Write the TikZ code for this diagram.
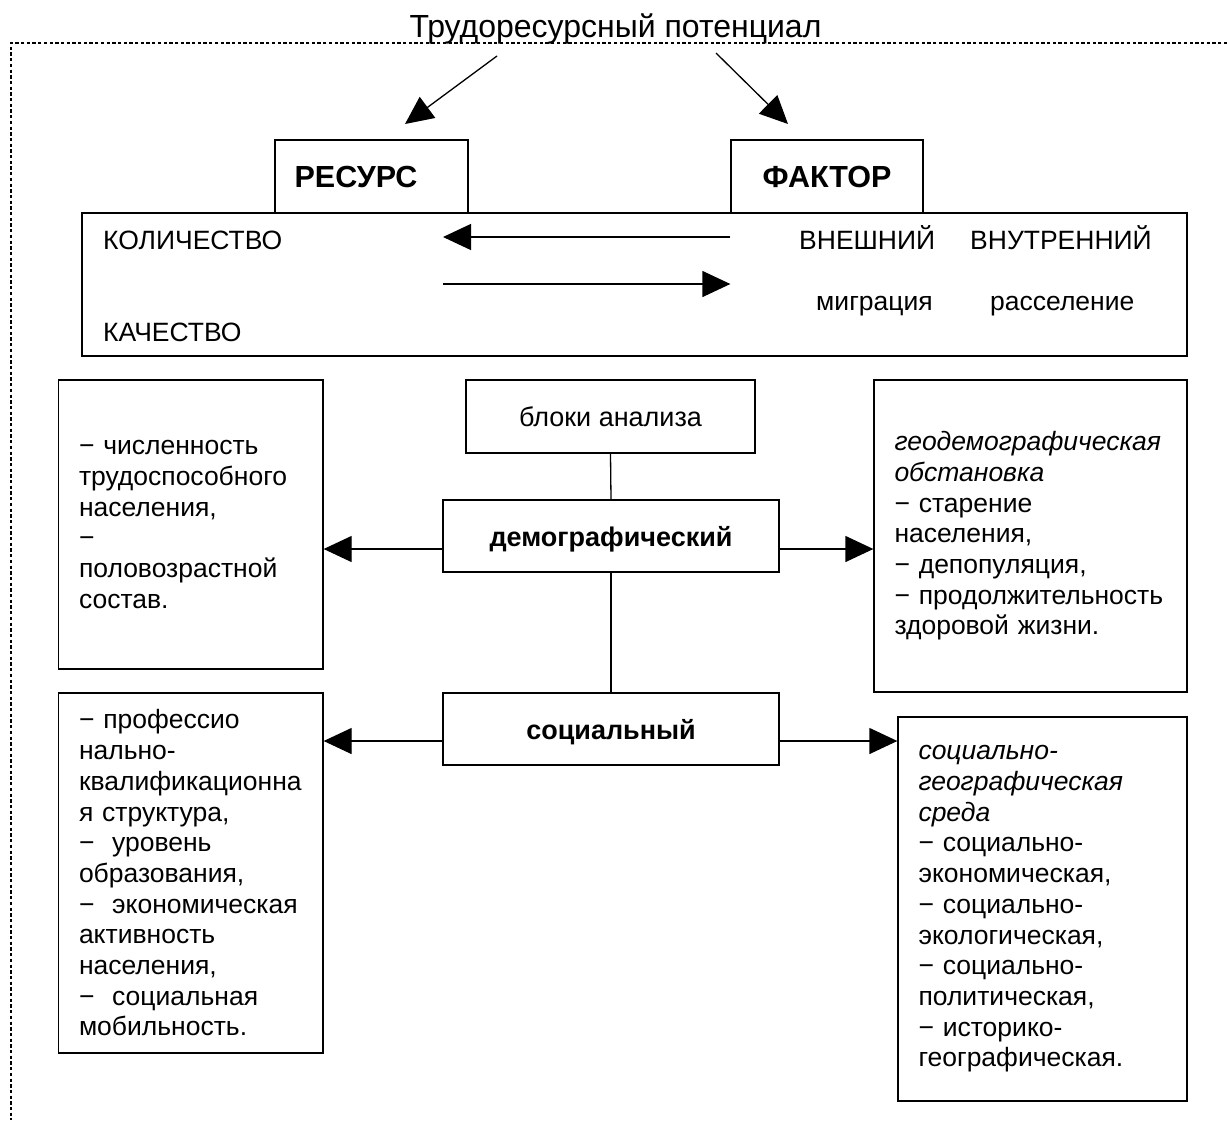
\documentclass[tikz,border=0pt]{standalone}
\usepackage{fontspec}
\setmainfont{Liberation Sans}
\usetikzlibrary{arrows.meta}
\hyphenpenalty=10000
\exhyphenpenalty=10000
\begin{document}
\begin{tikzpicture}[x=1pt,y=-1pt,
  box/.style={draw, line width=1.3pt, inner sep=0pt, font=\fontsize{27}{30.7}\selectfont},
  boldbox/.style={box, font=\bfseries\fontsize{27}{30.7}\selectfont, text height=20pt, text depth=0pt},
  headbox/.style={draw, line width=1.3pt, inner ysep=0pt, minimum height=73pt, font=\bfseries\fontsize{30.5}{36}\selectfont},
  txt/.style={inner sep=0pt, font=\fontsize{26.5}{30.7}\selectfont},
  arr/.style={line width=1.3pt, -{Triangle[length=28pt,width=26pt]}},
  lnk/.style={line width=1.3pt},
  listbox/.style={draw, line width=1.3pt, inner xsep=20.5pt, inner ysep=0pt, align=left,
    font=\fontsize{26.5}{30.7}\selectfont},
  dotline/.style={line width=2pt, dash pattern=on 3.3pt off 2.4pt},
]
\useasboundingbox (0,0) rectangle (1227,1120);

% dotted frame
\draw[dotline] (1227,43) -- (11,43) -- (11,1120);

% title
\node[inner sep=0pt, anchor=base, font=\fontsize{32}{38}\selectfont] (title) at (615.5,37) {Трудоресурсный потенциал};

% big box and heads
\node[draw, line width=1.3pt, inner sep=0pt, minimum width=1105pt, minimum height=143pt] (big) at (634.5,284.5) {};
\node[headbox, text width=153.8pt, inner xsep=19.6pt, align=left] (res) at (371.5,176.5) {РЕСУРС};
\node[headbox, text width=152pt, inner xsep=20pt, align=center] (fac) at (827,176.5) {ФАКТОР};

\coordinate (s1) at (497,56);
\coordinate (e1) at (405,124);
\coordinate (s2) at (716,53);
\coordinate (e2) at (788,124);
\draw[arr] (s1) -- (e1);
\draw[arr] (s2) -- (e2);

% texts inside the big box
\node[txt, anchor=base west] (kol) at (103,249) {КОЛИЧЕСТВО};
\node[txt, anchor=base west] (kach) at (103,341) {КАЧЕСТВО};
\node[txt, anchor=base west] (vnesh) at (799,249) {ВНЕШНИЙ};
\node[txt, anchor=base west] (vnutr) at (970,249) {ВНУТРЕННИЙ};
\node[txt, anchor=base west] (migr) at (816,310) {миграция};
\node[txt, anchor=base west] (rass) at (990,310) {расселение};

\coordinate (a1) at (443,237);
\coordinate (a2) at (443,284);
\draw[arr] (fac.south west |- a1) -- (a1);
\draw[arr] (a2) -- (fac.south west |- a2);

% central column
\node[box, minimum width=289pt, minimum height=73pt] (blocks) at (610.5,416.5) {блоки анализа};
\node[boldbox, minimum width=336pt, minimum height=72pt] (demo) at (611,536) {демографический};
\node[boldbox, minimum width=336pt, minimum height=72pt] (soc) at (611,729) {социальный};

\draw[lnk] (blocks.south) -- (demo.north);
\draw[lnk] (demo.south) -- (soc.north);

% side boxes
\node[listbox, text width=223.5pt, minimum height=289pt] (dleft) at (190.75,524.5)
  {−~численность\\трудоспособного\\населения,\\−\\половозрастной\\состав.};
\node[listbox, text width=272pt, minimum height=312pt] (dright) at (1030.5,536)
  {\textit{геодемографическая}\\\textit{обстановка}\\−~старение\\населения,\\−~депопуляция,\\−~продолжительность\\здоровой жизни.};
\node[listbox, text width=223.5pt, minimum height=360pt] (sleft) at (190.75,873)
  {−~профессио\\нально-\\квалификационна\\я структура,\\−~~уровень\\образования,\\−~~экономическая\\активность\\населения,\\−~~социальная\\мобильность.};
\node[listbox, text width=248pt, minimum height=384pt] (sright) at (1042.5,909)
  {\textit{социально-}\\\textit{географическая}\\\textit{среда}\\−~социально-\\экономическая,\\−~социально-\\экологическая,\\−~социально-\\политическая,\\−~историко-\\географическая.};

\coordinate (yd) at (0,549);
\coordinate (ys) at (0,741);
\draw[arr] (demo.west |- yd) -- (dleft.east |- yd);
\draw[arr] (demo.east |- yd) -- (dright.west |- yd);
\draw[arr] (soc.west |- ys) -- (sleft.east |- ys);
\draw[arr] (soc.east |- ys) -- (sright.west |- ys);
\end{tikzpicture}
\end{document}
